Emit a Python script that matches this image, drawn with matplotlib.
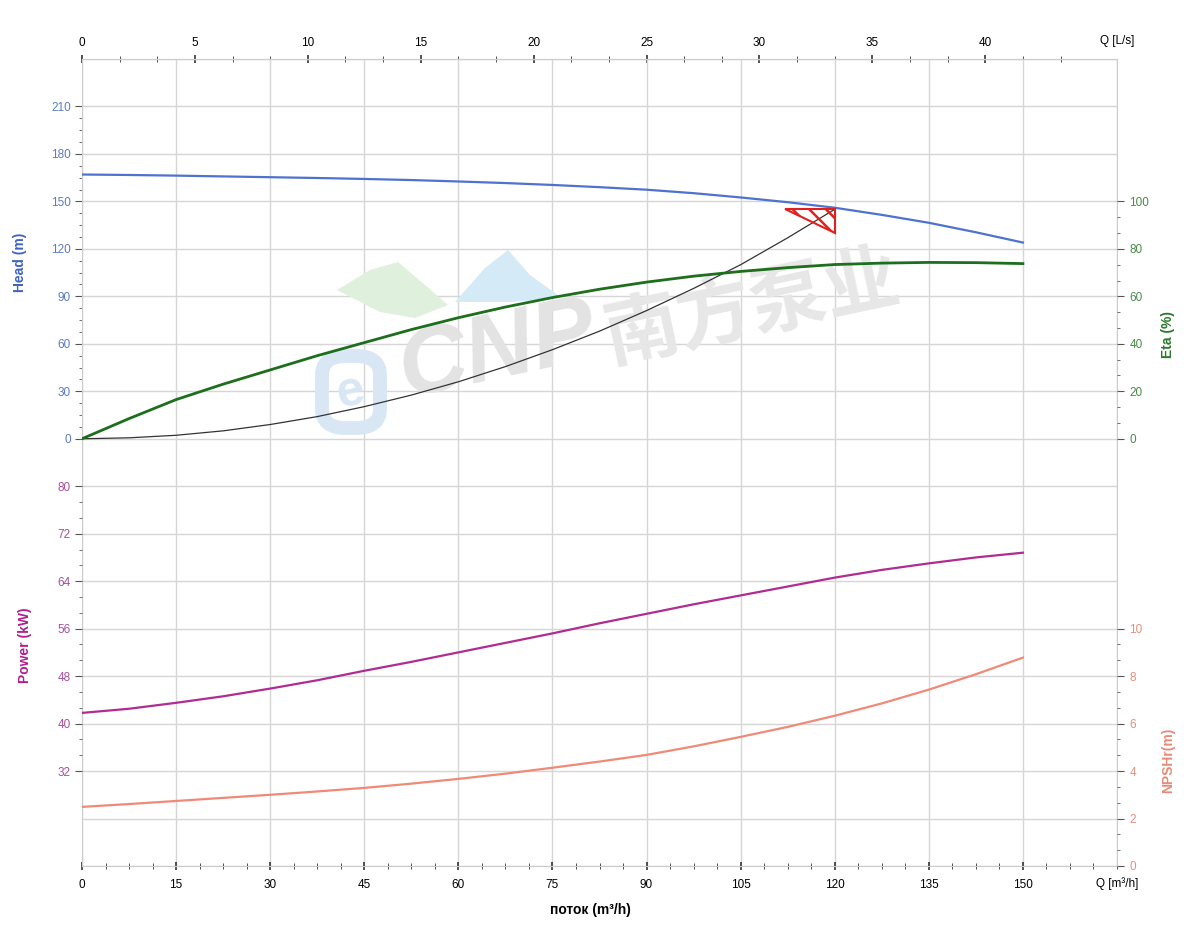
import numpy as np
import matplotlib
matplotlib.use('Agg')
import matplotlib.pyplot as plt
from matplotlib.patches import Polygon, FancyBboxPatch

plt.rcParams['font.family'] = ['Liberation Sans', 'DejaVu Sans']
plt.rcParams['hatch.color'] = '#e02020'
plt.rcParams['hatch.linewidth'] = 1.8

##############################
# curve data (Q in m3/h)
q = [0, 7.5, 15, 22.5, 30, 37.5, 45, 52.5, 60, 67.5, 75, 82.5, 90, 97.5, 105, 112.5, 120, 127.5, 135, 142.5, 150]
head = [167, 166.7, 166.3, 165.8, 165.3, 164.8, 164.2, 163.5, 162.6, 161.6, 160.4, 159, 157.4, 155.2, 152.5,
        149.5, 146, 141.5, 136.5, 130.5, 124]
eta = [0, 8.5, 16.5, 23, 29, 35, 40.5, 46, 51, 55.5, 59.5, 63, 66, 68.5, 70.5, 72.1, 73.4, 74, 74.3, 74.2, 73.8]
power = [41.8, 42.5, 43.5, 44.6, 45.9, 47.3, 48.9, 50.4, 52, 53.6, 55.2, 56.9, 58.5, 60.1, 61.6, 63.1, 64.6,
         65.9, 67, 68, 68.8]
npsh = [2.49, 2.61, 2.74, 2.87, 3.0, 3.14, 3.29, 3.47, 3.67, 3.89, 4.14, 4.4, 4.68, 5.04, 5.44, 5.86, 6.33,
        6.85, 7.43, 8.08, 8.78]

q_sys = [0, 7.5, 15, 22.5, 30, 37.5, 45, 52.5, 60, 67.5, 75, 82.5, 90, 97.5, 105, 112.5, 120]
h_sys = [0, 0.6, 2.2, 5, 9, 14, 20.3, 27.6, 36, 45.6, 56.3, 68, 81, 95, 110, 127, 145]

duty_q = 120
duty_h = 145

head_ticks = list(range(0, 211, 30))
power_ticks = list(range(32, 81, 8))
eta_ticks = list(range(0, 101, 20))
npsh_ticks = list(range(0, 11, 2))
q_ticks = list(range(0, 151, 15))
ls_ticks = list(range(0, 41, 5))
##############################

c_head = '#4f72cf'
c_eta = '#1d6e1d'
c_pow = '#b02c90'
c_npsh = '#f08a78'
tick_gray = '#555555'


def minor_between(lo, hi, step, n):
    # n minor ticks between each pair of major ticks
    out = []
    v = lo
    while v < hi - 1e-9:
        for k in range(1, n + 1):
            out.append(v + step * k / (n + 1))
        v += step
    return out


fig = plt.figure(figsize=(12, 9.5), dpi=100)
pos = [82 / 1200, 1 - 866 / 950, (1117 - 82) / 1200, (866 - 59) / 950]
ax = fig.add_axes(pos)
ax_eta = ax.twinx()
ax_npsh = ax.twinx()
ax_pow = fig.add_axes(pos, sharex=ax)
ax_pow.patch.set_visible(False)

ax.set_xlim(0, 165)
ax.set_ylim(-270, 240)
ax_pow.set_ylim(16, 152)
ax_eta.set_ylim(-180, 160)
ax_npsh.set_ylim(0, 34)

# grid
for v in np.arange(-270, 241, 30):
    ax.axhline(v, color='#d6d6d6', lw=1, zorder=0.5)
for v in np.arange(0, 166, 15):
    ax.axvline(v, color='#d6d6d6', lw=1, zorder=0.5)

for a in (ax, ax_eta, ax_npsh, ax_pow):
    for s in a.spines.values():
        s.set_color('#cccccc')
        s.set_visible(a is ax)

# head axis (left)
ax.set_yticks(head_ticks)
ax.set_yticks(minor_between(0, 210, 30, 3), minor=True)
ax.tick_params(axis='y', which='major', length=5, color=tick_gray, labelcolor='#5a7bbf', labelsize=8.5, pad=3)
ax.tick_params(axis='y', which='minor', length=2, color=tick_gray)

# power axis (left)
ax_pow.set_yticks(power_ticks)
ax_pow.set_yticks(minor_between(32, 80, 8, 2), minor=True)
ax_pow.tick_params(axis='y', which='major', length=5, color=tick_gray, labelcolor='#a4509c', labelsize=8.5, pad=3)
ax_pow.tick_params(axis='y', which='minor', length=2, color=tick_gray)
ax_pow.tick_params(axis='x', which='both', bottom=False, labelbottom=False)

# eta axis (right)
ax_eta.set_yticks(eta_ticks)
ax_eta.set_yticks(minor_between(0, 100, 20, 2), minor=True)
ax_eta.tick_params(axis='y', which='major', length=5, color=tick_gray, labelcolor='#4a8a4a', labelsize=8.5, pad=4)
ax_eta.tick_params(axis='y', which='minor', length=2, color=tick_gray)

# npsh axis (right)
ax_npsh.set_yticks(npsh_ticks)
ax_npsh.set_yticks(minor_between(0, 10, 2, 2), minor=True)
ax_npsh.tick_params(axis='y', which='major', length=5, color=tick_gray, labelcolor='#e0907e', labelsize=8.5, pad=4)
ax_npsh.tick_params(axis='y', which='minor', length=2, color=tick_gray)

# bottom x axis
ax.set_xticks(q_ticks)
ax.set_xticks(np.arange(0, 165.1, 3.75), minor=True)
ax.tick_params(axis='x', which='major', direction='inout', length=6, width=1.2, color='#333333', labelsize=8.5, pad=6)
ax.tick_params(axis='x', which='minor', direction='inout', length=4, color='#333333')

# top x axis in L/s
top = ax.secondary_xaxis('top', functions=(lambda x: x / 3.6, lambda x: x * 3.6))
top.set_xticks(ls_ticks)
top.set_xticks(minor_between(0, 45, 5, 2), minor=True)
top.tick_params(axis='x', which='major', direction='inout', length=6, width=1.2, color='#333333', labelsize=8.5, pad=4)
top.tick_params(axis='x', which='minor', direction='inout', length=4, color='#333333')
top.spines['top'].set_color('#cccccc')

# watermark
wm = dict(transform=fig.transFigure, zorder=1)
ax.add_patch(Polygon([(337 / 1200, 1 - 290 / 950), (370 / 1200, 1 - 270 / 950), (398 / 1200, 1 - 262 / 950),
                      (425 / 1200, 1 - 285 / 950), (448 / 1200, 1 - 305 / 950), (415 / 1200, 1 - 318 / 950),
                      (380 / 1200, 1 - 312 / 950)],
                     closed=True, fc='#dff1dc', ec='none', **wm))
ax.add_patch(Polygon([(455 / 1200, 1 - 302 / 950), (485 / 1200, 1 - 268 / 950), (508 / 1200, 1 - 250 / 950),
                      (530 / 1200, 1 - 275 / 950), (562 / 1200, 1 - 298 / 950), (510 / 1200, 1 - 302 / 950)],
                     closed=True, fc='#d4eaf7', ec='none', **wm))
ax.add_patch(FancyBboxPatch((322 / 1200, 1 - 428 / 950), 58 / 1200, 72 / 950,
                            boxstyle='round,pad=0,rounding_size=0.02', fc='none', ec='#d9e7f5', lw=10, **wm))
ax.text(351 / 1200, 1 - 392 / 950, 'e', fontsize=36, fontweight='bold', color='#d9e7f5',
        ha='center', va='center', rotation=12, **wm)
ax.text(498 / 1200, 1 - 352 / 950, 'CNP', fontsize=68, fontweight='bold', fontstyle='italic',
        color='#e3e3e3', ha='center', va='center', rotation=12, **wm)
ax.text(752 / 1200, 1 - 308 / 950, '南方泵业', fontsize=54, color='#e7e7e7', fontweight='bold',
        family=['Noto Sans CJK SC'], ha='center', va='center', rotation=12, **wm)

# curves
ax.plot(q, head, color=c_head, lw=1.6, zorder=3)
ax.plot(q_sys, h_sys, color='#333333', lw=0.9, zorder=3)
ax_eta.plot(q, eta, color=c_eta, lw=2, zorder=3)
ax_pow.plot(q, power, color=c_pow, lw=1.6, zorder=3)
ax_npsh.plot(q, npsh, color=c_npsh, lw=1.6, zorder=3)

# duty point marker
tri = Polygon([(duty_q - 8, duty_h + 0.4), (duty_q, duty_h + 0.4), (duty_q, duty_h - 15)], closed=True,
              fc='none', ec='#e02020', lw=1.5, hatch='\\\\', zorder=4)
ax.add_patch(tri)

# labels
fig.text(20 / 1200, 1 - 262 / 950, 'Head (m)', rotation=90, color='#3f63c0', fontsize=10,
         fontweight='bold', ha='center', va='center')
fig.text(25 / 1200, 1 - 645 / 950, 'Power (kW)', rotation=90, color='#b0208f', fontsize=10,
         fontweight='bold', ha='center', va='center')
fig.text(1168 / 1200, 1 - 335 / 950, 'Eta (%)', rotation=90, color='#2b7a2b', fontsize=10,
         fontweight='bold', ha='center', va='center')
fig.text(1168 / 1200, 1 - 760 / 950, 'NPSHr(m)', rotation=90, color='#e88a78', fontsize=10,
         fontweight='bold', ha='center', va='center')
fig.text(1117 / 1200, 1 - 884 / 950, 'Q [m³/h]', fontsize=8.5, ha='center', va='center')
fig.text(1117 / 1200, 1 - 41 / 950, 'Q [L/s]', fontsize=8.5, ha='center', va='center')
fig.text(590 / 1200, 1 - 910 / 950, 'поток (m³/h)', fontsize=10, fontweight='bold', ha='center', va='center')

plt.savefig('out.png', dpi=100)
plt.close()
